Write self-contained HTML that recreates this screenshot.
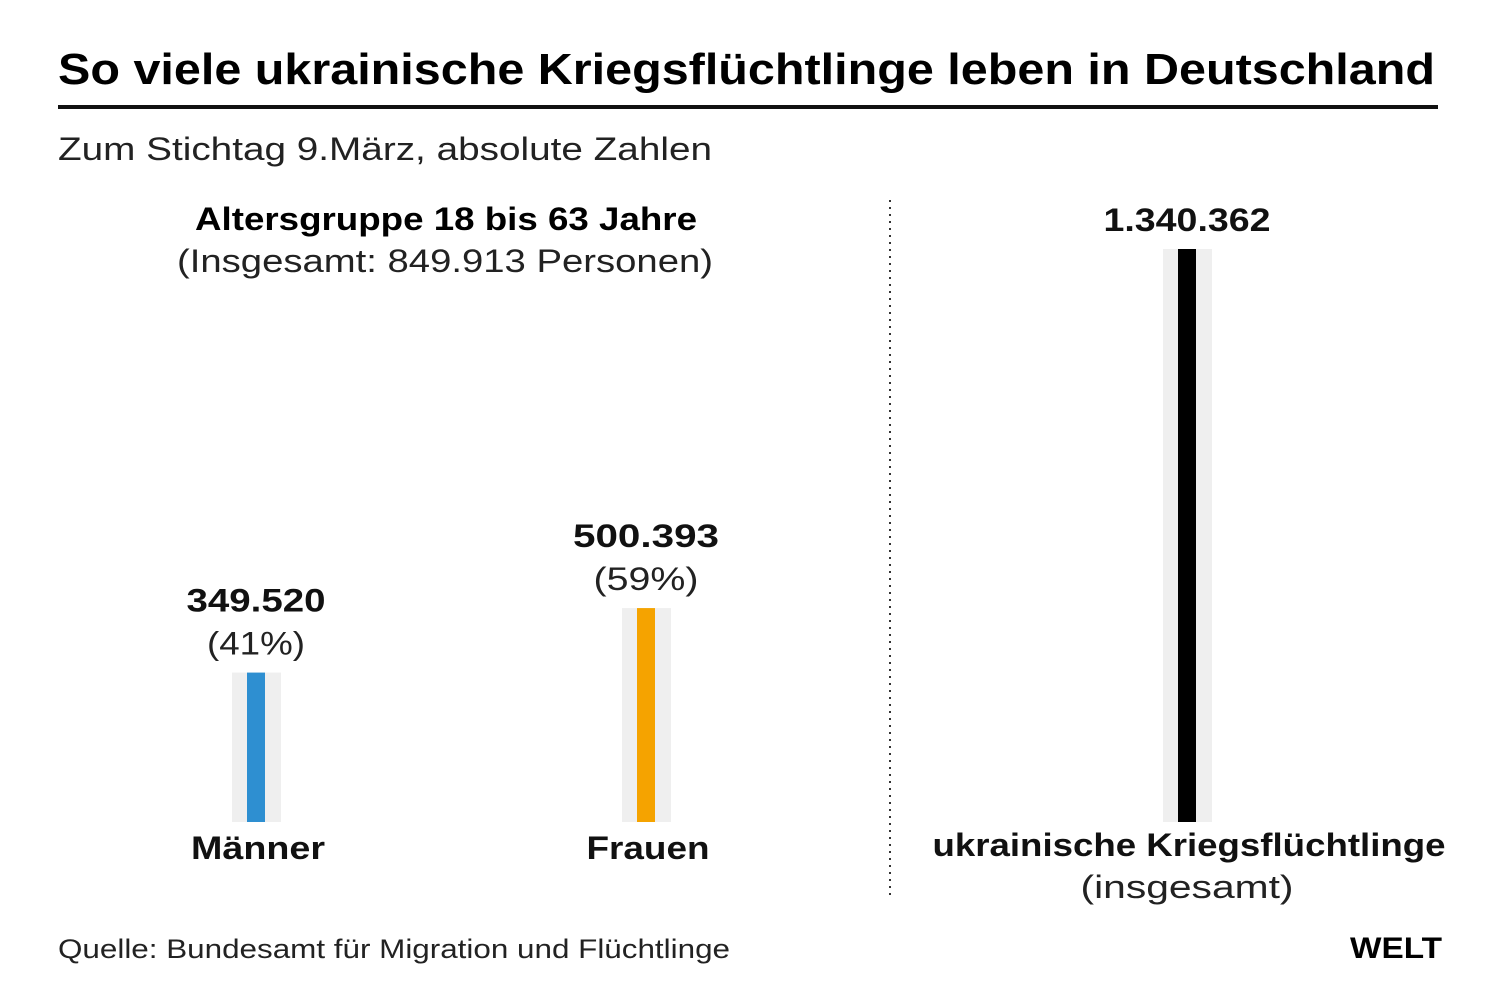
<!DOCTYPE html>
<html><head><meta charset="utf-8"><style>
body{margin:0;background:#fff;width:1499px;height:999px;overflow:hidden;font-family:"Liberation Sans",sans-serif;color:#111}
</style></head><body>
<svg width="1499" height="999">
<text x="58" y="84" font-size="44" font-weight="bold" textLength="1377" lengthAdjust="spacingAndGlyphs">So viele ukrainische Kriegsflüchtlinge leben in Deutschland</text>
<rect x="58" y="105" width="1380" height="4" fill="#111"/>
<text x="58" y="160" font-size="32" fill="#222" textLength="654" lengthAdjust="spacingAndGlyphs">Zum Stichtag 9.März, absolute Zahlen</text>
<text x="195" y="230" font-size="32" font-weight="bold" textLength="502" lengthAdjust="spacingAndGlyphs">Altersgruppe 18 bis 63 Jahre</text>
<text x="177" y="272" font-size="32" fill="#222" textLength="536" lengthAdjust="spacingAndGlyphs">(Insgesamt: 849.913 Personen)</text>
<line x1="890" y1="200" x2="890" y2="900" stroke="#333" stroke-width="2" stroke-dasharray="2,5"/>
<g id="bars"></g>
<text x="58" y="958" font-size="27" fill="#222" textLength="672" lengthAdjust="spacingAndGlyphs">Quelle: Bundesamt für Migration und Flüchtlinge</text>
<text x="1350" y="958" font-size="30" font-weight="900" textLength="92" lengthAdjust="spacingAndGlyphs">WELT</text>
</svg>
<script>
const categories=["Männer","Frauen","ukrainische Kriegsflüchtlinge"];
const values=[349520,500393,1340362];
const valueLabels=["349.520","500.393","1.340.362"];
const pctLabels=["(41%)","(59%)",""];
const subLabels=["","","(insgesamt)"];
const colors=["#2e8fd1","#f5a300","#000"];
const centers=[256,646,1187];
const textWidths={"349.520":139,"500.393":146,"1.340.362":167,"(41%)":98,"(59%)":105,"Männer":134,"Frauen":123,"ukrainische Kriegsflüchtlinge":513,"(insgesamt)":213};
const base=822, maxH=573, maxV=1340362;
const y=v=>base-v/maxV*maxH;
const g=document.getElementById('bars');
const NS="http://www.w3.org/2000/svg";
function mk(t,a){const e=document.createElementNS(NS,t);for(const k in a)e.setAttribute(k,a[k]);g.appendChild(e);return e;}
function txt(str,cx,yy,bold,fill){const w=textWidths[str];const e=mk('text',{x:cx-w/2,y:yy,'font-size':32,'font-weight':bold?'bold':'normal',fill:fill,textLength:w,lengthAdjust:'spacingAndGlyphs'});e.textContent=str;return e;}
values.forEach((v,i)=>{
 const cx=centers[i],top=y(v);
 const bg=mk('rect',{x:cx-24,y:top,width:49,height:base-top,fill:'#efefef'});
 
 
 const b=mk('rect',{x:cx-9,y:top,width:18,height:base-top,fill:colors[i]});
 
 
 const hasPct=pctLabels[i]!=="";
 const vl=txt(valueLabels[i],cx,hasPct?top-61:top-18,true,'#111');
 
 
 if(hasPct){const p=txt(pctLabels[i],cx,top-18,false,'#222');
 
 }
 const c=txt(categories[i],cx+2,i<2?859:856,true,'#111');
 
 
 if(subLabels[i]){const s=txt(subLabels[i],cx,898,false,'#222');
 
 }
});
</script>
</body></html>
